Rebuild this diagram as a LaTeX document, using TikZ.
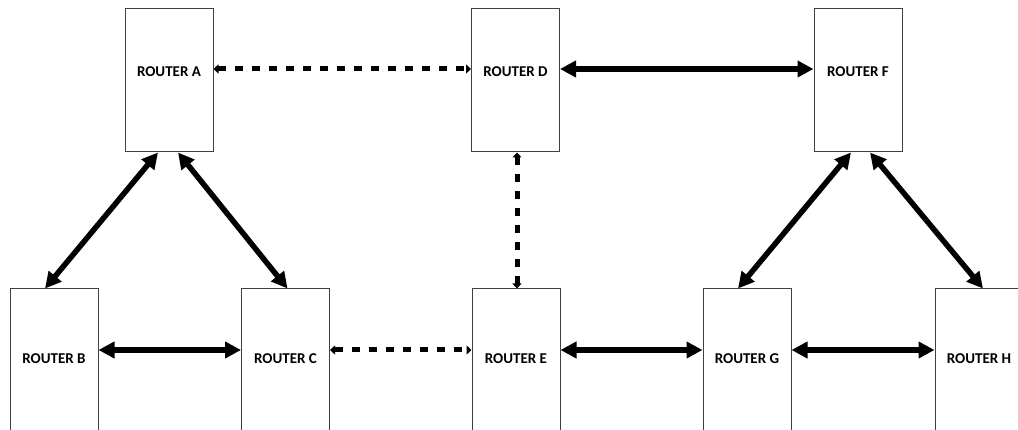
\documentclass[tikz,border=0pt]{standalone}
\usepackage{xcolor}
\usepackage{fontspec}
\setmainfont{Carlito}
\usepackage{tikz}
\usetikzlibrary{arrows.meta}

\begin{document}
\begin{tikzpicture}[x=1pt,y=-1pt,
    router/.style={draw=black!75,line width=1pt,fill=white,minimum width=88pt,
      minimum height=143pt,inner sep=0pt,font=\bfseries\fontsize{15}{15}\selectfont,
      text height=12pt,text depth=6.3pt},
    upper/.style={text depth=20.3pt},
    link/.style={line width=5.5pt,{Triangle[length=16pt,width=16pt]}-{Triangle[length=16pt,width=16pt]}},
    backup/.style={line width=5pt,dash pattern=on 8pt off 9pt,
      {Triangle[length=5pt,width=9pt]}-{Triangle[length=5pt,width=9pt]}}]

  \useasboundingbox (0,0) rectangle (1018,430);
  \clip (0,0) rectangle (1018,430);
  \fill[white] (0,0) rectangle (1018,430);

  \node[router,upper] (ra) at (169,80.5) {ROUTER A};
  \node[router,upper] (rd) at (515.5,80.5) {ROUTER D};
  \node[router,upper] (rf) at (858,80.5) {ROUTER F};

  \node[router] (rb) at (54,360.5) {ROUTER B};
  \node[router] (rc) at (285.5,360.5) {ROUTER C};
  \node[router] (re) at (516,360.5) {ROUTER E};
  \node[router] (rg) at (747,360.5) {ROUTER G};
  \node[router] (rh) at (979,360.5) {ROUTER H};

  \draw[backup] ([yshift=11.5pt]ra.east) -- ([yshift=11.5pt]rd.west);
  \draw[link] ([yshift=11.5pt]rd.east) -- ([yshift=11.5pt]rf.west);

  \draw[link] ([xshift=-11pt]ra.south) -- ([xshift=-9pt]rb.north);
  \draw[link] ([xshift=9pt]ra.south) -- ([xshift=2pt]rc.north);
  \draw[backup] ([xshift=1.5pt]rd.south) -- ([xshift=1pt]re.north);
  \draw[link] ([xshift=-7pt]rf.south) -- ([xshift=-9pt]rg.north);
  \draw[link] ([xshift=12pt]rf.south) -- ([xshift=4pt]rh.north);

  \draw[link] ([yshift=10.5pt]rb.east) -- ([yshift=10.5pt]rc.west);
  \draw[backup] ([yshift=10.5pt]rc.east) -- ([yshift=10.5pt]re.west);
  \draw[link] ([yshift=10.5pt]re.east) -- ([yshift=10.5pt]rg.west);
  \draw[link] ([yshift=10.5pt]rg.east) -- ([yshift=10.5pt]rh.west);
\end{tikzpicture}
\end{document}
